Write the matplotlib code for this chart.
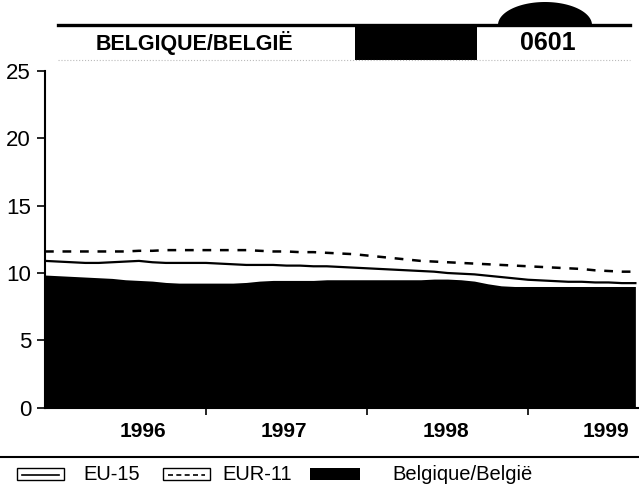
import numpy as np
import matplotlib
matplotlib.use('Agg')
from matplotlib import pyplot as plt
from matplotlib.patches import Rectangle, Polygon
from matplotlib.lines import Line2D

plt.rcParams['font.family'] = ['Liberation Sans', 'DejaVu Sans']

# monthly unemployment rates, Jan 1996 onwards
months = np.arange(45)
belgium = [9.85, 9.8, 9.75, 9.7, 9.65, 9.6, 9.5, 9.45, 9.4, 9.3, 9.25, 9.25,
           9.25, 9.25, 9.25, 9.3, 9.4, 9.45, 9.45, 9.45, 9.45, 9.5, 9.5, 9.5,
           9.5, 9.5, 9.5, 9.5, 9.5, 9.55, 9.55, 9.5, 9.4, 9.2, 9.05, 9.0,
           9.0, 9.0, 9.0, 9.0, 9.0, 9.0, 9.0, 9.0, 9.0]
eu15 = [10.9, 10.85, 10.8, 10.75, 10.75, 10.8, 10.85, 10.9, 10.8, 10.75, 10.75, 10.75,
        10.75, 10.7, 10.65, 10.6, 10.6, 10.6, 10.55, 10.55, 10.5, 10.5, 10.45, 10.4,
        10.35, 10.3, 10.25, 10.2, 10.15, 10.1, 10.0, 9.95, 9.9, 9.8, 9.7, 9.6,
        9.5, 9.45, 9.4, 9.35, 9.35, 9.3, 9.3, 9.25, 9.25]
eur11 = [11.6, 11.6, 11.6, 11.6, 11.6, 11.6, 11.6, 11.65, 11.65, 11.7, 11.7, 11.7,
         11.7, 11.7, 11.7, 11.7, 11.65, 11.6, 11.6, 11.55, 11.55, 11.5, 11.45, 11.4,
         11.3, 11.2, 11.1, 11.0, 10.9, 10.85, 10.8, 10.75, 10.7, 10.65, 10.6, 10.55,
         10.5, 10.45, 10.4, 10.35, 10.3, 10.2, 10.15, 10.1, 10.1]
years = ['1996', '1997', '1998', '1999']
yticks = [0, 5, 10, 15, 20, 25]

W, H = 639, 492

def fx(px):
	return px / W
def fy(py):
	return 1 - py / H

fig = plt.figure(figsize=(W / 100, H / 100), dpi=100)
ax = fig.add_axes([fx(45), fy(407.7), fx(639) - fx(45), fy(71) - fy(407.7)])

ax.fill_between(months, 0, belgium, color='black', linewidth=0)
ax.plot(months, eu15, color='black', lw=1.6)
ax.plot(months, eur11, color='black', lw=1.8, linestyle=(0, (3.5, 3.5)))

ax.set_xlim(0, 44.27)
ax.set_ylim(0, 25)
ax.set_yticks(yticks)
ax.tick_params(axis='y', direction='out', length=6, width=1.2, labelsize=16, pad=4)
#major ticks at year boundaries, year labels on minor ticks (first one sits a bit right in the original)
ax.set_xticks([12, 24, 36])
ax.set_xticklabels([])
ax.set_xticks([7.3, 17.8, 29.9, 41.8], minor=True)
ax.set_xticklabels(years, minor=True, fontsize=15, fontweight='bold')
ax.tick_params(axis='x', which='major', direction='out', length=5, width=1.2)
ax.tick_params(axis='x', which='minor', length=0, pad=10)
for s in ['top', 'right']:
	ax.spines[s].set_visible(False)
for s in ['left', 'bottom']:
	ax.spines[s].set_linewidth(1.5)

#header band
fig.add_artist(Line2D([fx(58), fx(630)], [fy(24.5), fy(24.5)], color='black', lw=2.4))
fig.add_artist(Line2D([fx(58), fx(630)], [fy(60), fy(60)], color='#bbbbbb', lw=0.8, ls=':'))
fig.add_artist(Rectangle((fx(355), fy(60)), fx(477) - fx(355), fy(25) - fy(60),
                         transform=fig.transFigure, color='black', lw=0))
t = np.linspace(0, np.pi, 60)
dome = np.column_stack([fx(545 + 47 * np.cos(t)), fy(25 - 23 * np.sin(t))])
fig.add_artist(Polygon(dome, closed=True, transform=fig.transFigure, color='black', lw=0))
fig.text(fx(96), fy(50), 'BELGIQUE/BELGIË', fontsize=15.5, fontweight='bold', va='baseline')
fig.text(fx(548), fy(50), '0601', fontsize=18, fontweight='bold', va='baseline', ha='center')

#rule above the legend
fig.add_artist(Line2D([0, 1], [fy(457), fy(457)], color='black', lw=1.5))

#legend drawn by hand
def keybox(x0, style):
	fig.add_artist(Rectangle((fx(x0), fy(480)), fx(47), fy(0) - fy(12), transform=fig.transFigure,
	                         facecolor='white', edgecolor='black', lw=1.0))
	fig.add_artist(Line2D([fx(x0 + 5), fx(x0 + 42)], [fy(474.5), fy(474.5)], color='black',
	                      lw=1.2, linestyle=style))

keybox(17, '-')
fig.text(fx(83), fy(474), 'EU-15', fontsize=14.5, va='center')
keybox(163, (0, (3, 2)))
fig.text(fx(222), fy(474), 'EUR-11', fontsize=14.5, va='center')
fig.add_artist(Rectangle((fx(310), fy(480)), fx(50), fy(0) - fy(12), transform=fig.transFigure,
                         color='black', lw=0))
fig.text(fx(392), fy(474), 'Belgique/België', fontsize=14.5, va='center')

fig.savefig('out.png', dpi=100)
